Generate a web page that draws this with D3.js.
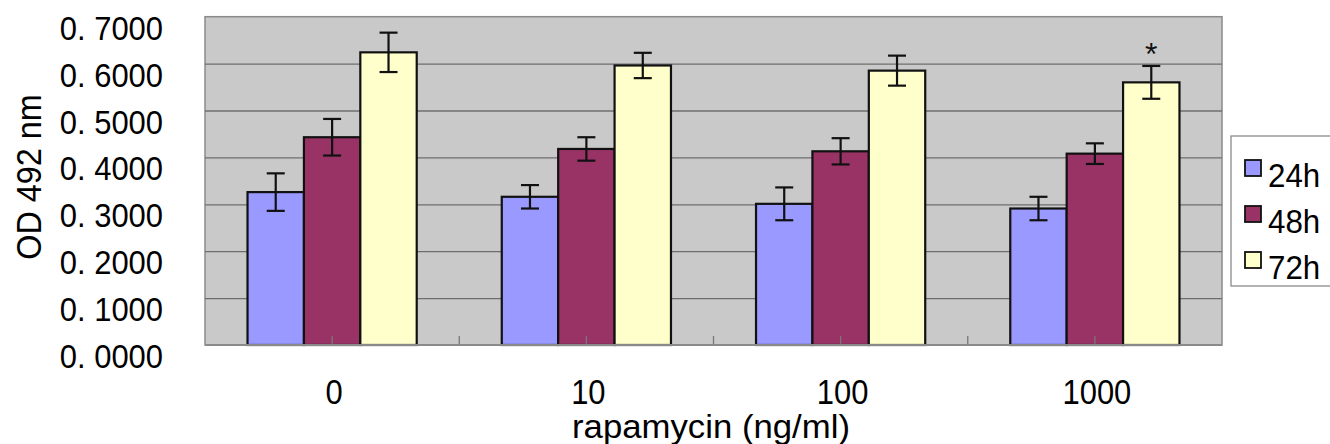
<!DOCTYPE html>
<html>
<head>
<meta charset="utf-8">
<script src="https://cdn.jsdelivr.net/npm/d3@7"></script>
<style>
  html, body { margin: 0; padding: 0; background: #ffffff; }
  svg { display: block; font-family: "Liberation Sans", Arial, sans-serif; }
</style>
</head>
<body>
<svg id="chart" width="1330" height="444"></svg>
<script>
// ---- data ----
const categories = ["0", "10", "100", "1000"];
const seriesNames = ["24h", "48h", "72h"];
const values24 = [0.326, 0.316, 0.301, 0.291];
const values48 = [0.443, 0.418, 0.413, 0.408];
const values72 = [0.624, 0.596, 0.585, 0.560];
const errors24 = [0.040, 0.025, 0.035, 0.025];
const errors48 = [0.039, 0.025, 0.028, 0.022];
const errors72 = [0.042, 0.027, 0.032, 0.035];
const significance72 = ["", "", "", "*"];
const yTicks = [0, 0.1, 0.2, 0.3, 0.4, 0.5, 0.6, 0.7];
const colors = ["#9999FF", "#993366", "#FFFFCC"];

const seriesValues = [values24, values48, values72];
const seriesErrors = [errors24, errors48, errors72];

// ---- layout ----
const svg = d3.select("#chart");
const plot = { left: 205, right: 1222, top: 16.7, bottom: 345 };

const x0 = d3.scaleBand().domain(categories).range([plot.left, plot.right]).padding(0);
const x1 = d3.scaleBand().domain(seriesNames).range([0, x0.bandwidth()])
  .paddingInner(0).paddingOuter(0.754);
const y = d3.scaleLinear().domain([0, 0.7]).range([plot.bottom, plot.top]);

// plot background
svg.append("rect")
  .attr("x", plot.left).attr("y", plot.top)
  .attr("width", plot.right - plot.left).attr("height", plot.bottom - plot.top)
  .attr("fill", "#C9C9C9").attr("stroke", "#8a8a8a").attr("stroke-width", 1.5);

// gridlines
const yGrid = d3.axisLeft(y).tickValues(yTicks.filter(t => t > 0 && t < 0.7))
  .tickSize(-(plot.right - plot.left)).tickFormat("");
const gGrid = svg.append("g").attr("transform", `translate(${plot.left},0)`).call(yGrid);
gGrid.select(".domain").remove();
gGrid.selectAll(".tick line").attr("stroke", "#6e6e6e").attr("stroke-width", 1.3);

// bars
const data = [];
categories.forEach((c, ci) => {
  seriesNames.forEach((s, si) => {
    data.push({ cat: c, ser: s, si, v: seriesValues[si][ci], e: seriesErrors[si][ci],
      mark: si === 2 ? significance72[ci] : "" });
  });
});

svg.append("g").selectAll("rect").data(data).join("rect")
  .attr("x", d => x0(d.cat) + x1(d.ser))
  .attr("y", d => y(d.v))
  .attr("width", x1.bandwidth())
  .attr("height", d => y(0) - y(d.v))
  .attr("fill", d => colors[d.si])
  .attr("stroke", "#111").attr("stroke-width", 2.2);

// x axis line and ticks (half-category ticks, pointing up)
const tickPositions = [];
categories.forEach((c, ci) => {
  tickPositions.push(x0(c) + x0.bandwidth() / 2);
  if (ci > 0) tickPositions.push(x0(c));
});
svg.append("g").selectAll("line").data(tickPositions).join("line")
  .attr("x1", d => d).attr("x2", d => d)
  .attr("y1", plot.bottom).attr("y2", plot.bottom - 9)
  .attr("stroke", "#777").attr("stroke-width", 1.3);
svg.append("line")
  .attr("x1", plot.left).attr("x2", plot.right)
  .attr("y1", plot.bottom).attr("y2", plot.bottom)
  .attr("stroke", "#8a8a8a").attr("stroke-width", 2);

// error bars
const capW = 9;
const eb = svg.append("g").attr("stroke", "#111").attr("stroke-width", 2.2).attr("fill", "none");
data.forEach(d => {
  const cx = x0(d.cat) + x1(d.ser) + x1.bandwidth() / 2;
  const yt = y(d.v + d.e), yb = y(d.v - d.e);
  eb.append("line").attr("x1", cx).attr("x2", cx).attr("y1", yt).attr("y2", yb);
  eb.append("line").attr("x1", cx - capW).attr("x2", cx + capW).attr("y1", yt).attr("y2", yt);
  eb.append("line").attr("x1", cx - capW).attr("x2", cx + capW).attr("y1", yb).attr("y2", yb);
});

// significance marks
svg.append("g").selectAll("text").data(data.filter(d => d.mark)).join("text")
  .attr("x", d => x0(d.cat) + x1(d.ser) + x1.bandwidth() / 2)
  .attr("y", d => y(d.v + d.e) - 1)
  .attr("text-anchor", "middle")
  .attr("font-size", 32).attr("fill", "#111")
  .text(d => d.mark);

// y tick labels
const fmt = d3.format(".4f");
svg.append("g").selectAll("g").data(yTicks).join("g")
  .attr("transform", d => `translate(163,${y(d) + 23}) scale(0.91,1)`)
  .append("text")
  .attr("text-anchor", "end").attr("font-size", 34).attr("fill", "#000")
  .text(d => fmt(d).replace(".", ". "));

// x tick labels
svg.append("g").selectAll("g").data(categories).join("g")
  .attr("transform", d => `translate(${x0(d) + x0.bandwidth() / 2 + 2},404) scale(0.86,1)`)
  .append("text")
  .attr("text-anchor", "middle").attr("font-size", 36).attr("fill", "#000")
  .text(d => d);

// axis titles
svg.append("text")
  .attr("x", 711).attr("y", 438)
  .attr("text-anchor", "middle").attr("font-size", 33).attr("fill", "#000")
  .attr("textLength", 278).attr("lengthAdjust", "spacingAndGlyphs")
  .text("rapamycin (ng/ml)");

svg.append("g").attr("transform", "translate(41,177) rotate(-90) scale(0.9,1)")
  .append("text")
  .attr("text-anchor", "middle").attr("font-size", 36).attr("fill", "#000")
  .text("OD 492 nm");

// legend
const legend = svg.append("g");
legend.append("rect")
  .attr("x", 1231).attr("y", 136).attr("width", 120).attr("height", 150)
  .attr("fill", "#fff").attr("stroke", "#8a8a8a").attr("stroke-width", 1.3);
const li = legend.selectAll("g.item").data(seriesNames).join("g")
  .attr("class", "item")
  .attr("transform", (d, i) => `translate(1245,${168 + i * 46})`);
li.append("rect")
  .attr("x", 0).attr("y", -8).attr("width", 16).attr("height", 16)
  .attr("fill", (d, i) => colors[i]).attr("stroke", "#111").attr("stroke-width", 1.8);
li.append("g").attr("transform", "translate(23,19) scale(0.95,1)")
  .append("text").attr("font-size", 33).attr("fill", "#000")
  .text(d => d);
</script>
</body>
</html>
